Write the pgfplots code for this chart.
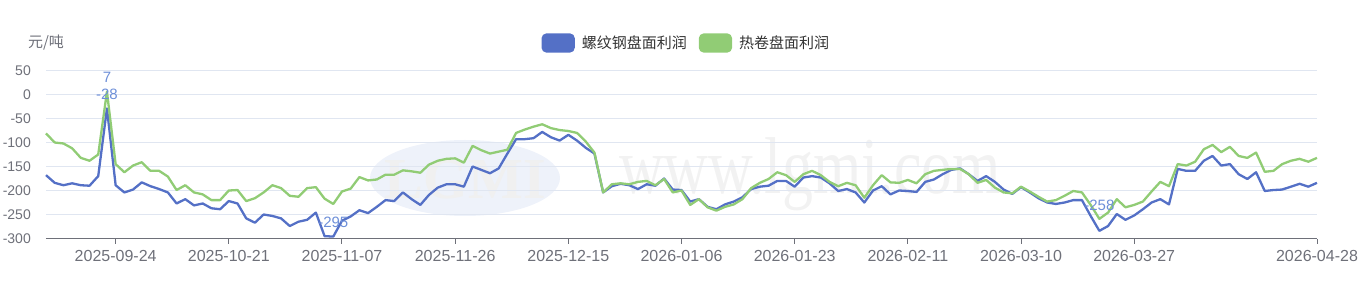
\documentclass[border=0pt]{standalone}
\usepackage{pgfplots}
\pgfplotsset{compat=1.18}
\usepackage{pgfplotstable}
\usepackage{fontspec}
\setmainfont{Liberation Sans}
\newfontfamily\cjk{Noto Sans CJK SC}
\newfontfamily\wm{Liberation Serif}
\definecolor{cb}{HTML}{5470C6}
\definecolor{cg}{HTML}{91CC75}
\definecolor{tx}{HTML}{6E7079}
\definecolor{gr}{HTML}{E0E6F1}
\definecolor{lb}{HTML}{6D8FD8}
\definecolor{lt}{HTML}{333333}
\definecolor{wmb}{HTML}{EEF2FA}
\tikzset{lbl/.style={font=\fontsize{15}{17}\selectfont, text=lb, yshift=14pt, inner sep=0pt}}
\pgfplotstableread{
i b g
0 -167 -80
1 -183 -99
2 -188 -101
3 -184 -111
4 -188 -131
5 -189 -137
6 -169 -124
7 -28 7
8 -188 -144
9 -203 -161
10 -197 -147
11 -182 -140
12 -190 -158
13 -196 -158
14 -203 -170
15 -226 -198
16 -217 -188
17 -230 -203
18 -226 -207
19 -236 -219
20 -238 -219
21 -221 -199
22 -226 -198
23 -257 -221
24 -266 -215
25 -249 -203
26 -252 -188
27 -257 -194
28 -273 -210
29 -264 -212
30 -260 -194
31 -245 -192
32 -294 -216
33 -295 -227
34 -262 -201
35 -253 -195
36 -240 -171
37 -246 -178
38 -233 -176
39 -219 -166
40 -221 -166
41 -203 -157
42 -217 -159
43 -229 -162
44 -208 -145
45 -193 -137
46 -186 -133
47 -186 -132
48 -191 -141
49 -149 -106
50 -156 -115
51 -163 -122
52 -153 -118
53 -122 -114
54 -92 -79
55 -92 -72
56 -90 -66
57 -77 -61
58 -88 -69
59 -95 -73
60 -83 -75
61 -95 -79
62 -110 -97
63 -122 -120
64 -203 -203
65 -190 -186
66 -185 -184
67 -188 -186
68 -196 -181
69 -186 -179
70 -189 -188
71 -174 -175
72 -197 -203
73 -198 -199
74 -222 -229
75 -217 -217
76 -233 -234
77 -238 -241
78 -228 -233
79 -222 -228
80 -213 -217
81 -196 -194
82 -191 -183
83 -189 -175
84 -179 -161
85 -179 -167
86 -191 -181
87 -172 -165
88 -169 -158
89 -172 -167
90 -184 -181
91 -200 -190
92 -196 -183
93 -203 -188
94 -224 -214
95 -199 -188
96 -190 -167
97 -207 -182
98 -199 -183
99 -200 -177
100 -202 -184
101 -181 -165
102 -176 -158
103 -165 -156
104 -156 -154
105 -153 -154
106 -165 -165
107 -179 -183
108 -169 -177
109 -181 -193
110 -197 -203
111 -206 -205
112 -192 -191
113 -203 -201
114 -215 -212
115 -224 -222
116 -227 -219
117 -224 -210
118 -219 -200
119 -219 -203
120 -252 -229
121 -283 -258
122 -273 -245
123 -248 -217
124 -260 -234
125 -251 -229
126 -238 -222
127 -224 -201
128 -217 -181
129 -228 -190
130 -154 -144
131 -158 -147
132 -158 -139
133 -137 -113
134 -127 -104
135 -147 -119
136 -144 -108
137 -165 -127
138 -175 -131
139 -161 -120
140 -200 -160
141 -198 -158
142 -197 -144
143 -191 -137
144 -185 -133
145 -191 -139
146 -183 -131
}\data
\begin{document}
\begin{tikzpicture}[x=1pt,y=1pt]
\useasboundingbox (0,0) rectangle (1369,286);
\fill[wmb] (465,108) ellipse [x radius=95, y radius=38];
\node[text=black!6, font=\wm\bfseries\fontsize{58}{58}\selectfont] at (465,106) {LGMI};
\node[text=black!5, font=\wm\fontsize{62}{62}\selectfont, yscale=1.3] at (810,112) {www.lgmi.com};
\begin{axis}[
  at={(46pt,47pt)}, anchor=south west, scale only axis,
  width=1271pt, height=168pt,
  xmin=0, xmax=146, ymin=-300, ymax=50,
  clip=false,
  axis lines*=left,
  x axis line style={tx, line width=1pt},
  y axis line style={draw=none},
  ytick={-300,-250,...,50},
  ytick style={draw=none},
  xtick={8,21,34,47,60,73,86,99,112,125,146},
  xticklabels={2025-09-24,2025-10-21,2025-11-07,2025-11-26,2025-12-15,2026-01-06,2026-01-23,2026-02-11,2026-03-10,2026-03-27,2026-04-28},
  tick align=outside,
  major tick length=5pt,
  xtick style={tx, line width=1pt},
  ymajorgrids,
  grid style={gr, line width=1pt},
  /pgf/number format/assume math mode=true,
  yticklabel style={font=\fontsize{14}{16}\selectfont, text=tx, inner sep=0pt, anchor=east, xshift=-10pt},
  xticklabel style={font=\fontsize{16}{18}\selectfont, text=tx, inner sep=0pt, anchor=north, yshift=-6pt},
  every axis y label/.style={at={(axis description cs:0,1.1667)}, anchor=center, font=\cjk\fontsize{15}{18}\selectfont, text=tx},
  ylabel={元/吨},
  legend columns=-1,
  legend image code/.code={\fill[#1, rounded corners=4pt] (0pt,-8.5pt) rectangle (31pt,8.5pt);},
  legend style={at={(axis description cs:0.503,1.1667)}, anchor=center, draw=none, fill=none,
    inner sep=0pt, font=\cjk\fontsize{15}{18}\selectfont, text=lt,
    nodes={inner sep=0pt},
    /tikz/every odd column/.append style={column sep=7pt},
    /tikz/every even column/.append style={column sep=12pt}}
]
\addplot[cb, line width=2.3pt, line join=round, mark=none] table[x=i, y=b]{\data};
\addlegendentry{螺纹钢盘面利润}
\addplot[cg, line width=2.3pt, line join=round, mark=none] table[x=i, y=g]{\data};
\addlegendentry{热卷盘面利润}
\node[lbl] at (axis cs:7,7) {7};
\node[lbl] at (axis cs:7,-28) {-28};
\node[lbl] at (axis cs:33,-295) {-295};
\node[lbl] at (axis cs:121,-258) {-258};
\end{axis}
\end{tikzpicture}
\end{document}
